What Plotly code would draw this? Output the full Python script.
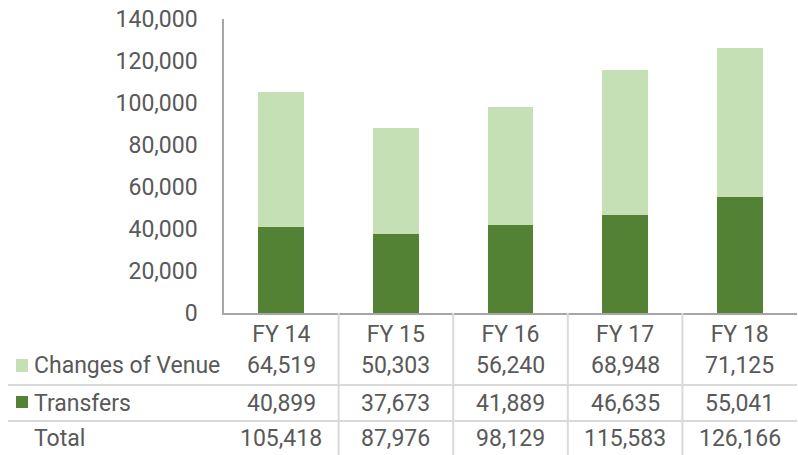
import plotly.graph_objects as go

# data
years = ["FY 14", "FY 15", "FY 16", "FY 17", "FY 18"]
changes_of_venue = [64519, 50303, 56240, 68948, 71125]
transfers = [40899, 37673, 41889, 46635, 55041]
totals = [a + b for a, b in zip(changes_of_venue, transfers)]

W, H = 798, 455
FONT = "Roboto, Liberation Sans, sans-serif"
FS = 23
TXT = "#595959"
LIGHT = "#C5E0B4"
DARK = "#548235"
GRID = "#D9D9D9"


def px(x):
    return x / W


def py(y):
    return 1 - y / H


fig = go.Figure()
fig.add_trace(go.Bar(x=years, y=transfers, name="Transfers",
                     marker=dict(color=DARK, line=dict(width=0))))
fig.add_trace(go.Bar(x=years, y=changes_of_venue, name="Changes of Venue",
                     marker=dict(color=LIGHT, line=dict(width=0))))

x0, x1 = px(224), px(797)
ytop, ybot = py(19), py(313)

fig.update_layout(
    width=W, height=H,
    barmode="stack", bargap=0.6,
    showlegend=False,
    plot_bgcolor="white", paper_bgcolor="white",
    margin=dict(l=0, r=0, t=0, b=0),
    font=dict(family=FONT, size=FS, color=TXT),
    xaxis=dict(domain=[x0, x1], showgrid=False, showline=True,
               linecolor="#A6A6A6", linewidth=1.5, ticks="", automargin=False,
               tickfont=dict(size=FS, color=TXT), ticklabelstandoff=0),
    yaxis=dict(domain=[ybot, ytop], range=[0, 140000], dtick=20000,
               tickformat=",", showgrid=False, showline=True, automargin=False,
               linecolor="#A6A6A6", linewidth=1.5, ticks="",
               tickfont=dict(size=FS, color=TXT), ticklabelstandoff=20,
               zeroline=False),
)

# table grid lines
shapes = []
for i in range(len(years) - 1):
    shapes.append(dict(type="line", xref="x", yref="paper",
                       x0=i + 0.5, x1=i + 0.5, y0=0, y1=ybot,
                       line=dict(color=GRID, width=2)))
for yy in (385, 421):
    shapes.append(dict(type="line", xref="paper", yref="paper",
                       x0=px(8), x1=px(797), y0=py(yy), y1=py(yy),
                       line=dict(color=GRID, width=2)))
# legend keys
for color, (ya, yb) in ((LIGHT, (359, 372)), (DARK, (396, 408))):
    shapes.append(dict(type="rect", xref="paper", yref="paper",
                       x0=px(16), x1=px(28), y0=py(yb), y1=py(ya),
                       fillcolor=color, line=dict(width=0)))
fig.update_layout(shapes=shapes)

# table text
rows = [("Changes of Venue", changes_of_venue, 365),
        ("Transfers", transfers, 403),
        ("Total", totals, 438)]
ann = []
for label, vals, yy in rows:
    ann.append(dict(xref="paper", yref="paper", x=px(32), y=py(yy),
                    text=label, showarrow=False, xanchor="left",
                    yanchor="middle", font=dict(size=FS, color=TXT)))
    for yr, v in zip(years, vals):
        ann.append(dict(xref="x", yref="paper", x=yr, y=py(yy),
                        text=f"{v:,}", showarrow=False, xanchor="center",
                        yanchor="middle", font=dict(size=FS, color=TXT)))
fig.update_layout(annotations=ann)

# page body has a default 8px margin; drop it so the figure fills the window
fig.write_html("out.html", config={"displayModeBar": False},
               post_script="document.body.style.margin='0';document.body.style.overflow='hidden';")
